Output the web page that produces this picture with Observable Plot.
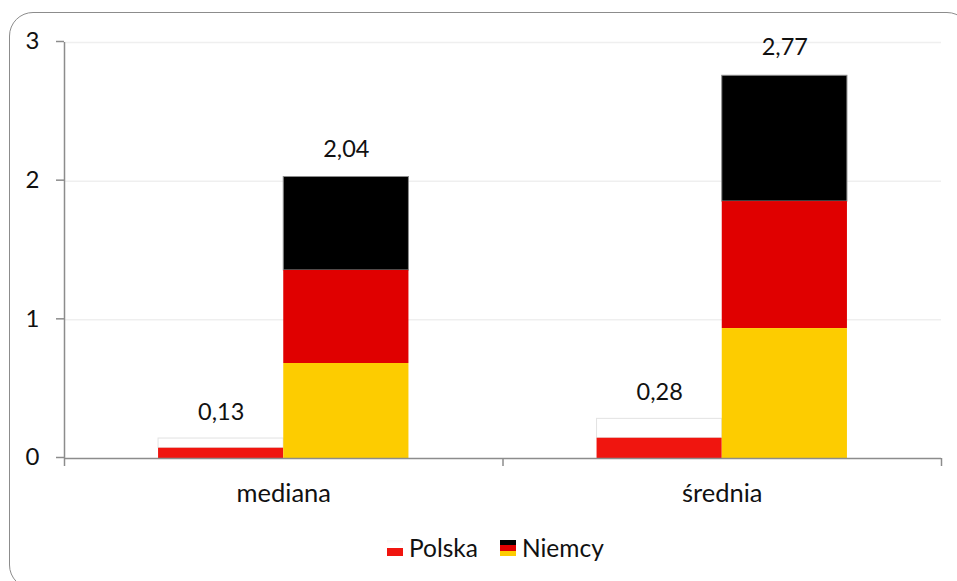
<!DOCTYPE html>
<html><head><meta charset="utf-8">
<script src="https://cdn.jsdelivr.net/npm/d3@7"></script>
<script src="https://cdn.jsdelivr.net/npm/@observablehq/plot@0.6"></script>
<style>
html,body{margin:0;padding:0;background:#fff;width:957px;height:581px;overflow:hidden;font-family:Lato,sans-serif;color:#111}
#frame{position:absolute;left:9px;top:12px;width:962px;height:577px;border:1.5px solid #8c8c8c;border-radius:24px;box-sizing:border-box}
#chart{position:absolute;left:0;top:0}
#legend{position:absolute;left:387px;top:533px;display:flex;gap:22px;font-size:24.5px;line-height:30px;white-space:nowrap}
#legend span.i{display:inline-flex;align-items:center}
#legend i{display:inline-block;width:16px;height:16px;margin-right:6px}
</style></head><body>
<div id="frame"></div><div id="chart"></div><div id="legend"></div>
<script>
const categories = ["mediana", "średnia"];
const polandLabels = ["0,13", "0,28"];
const germanyLabels = ["2,04", "2,77"];
const polandWhite = [0.07, 0.14];
const polandRed = [0.074, 0.146];
const germanyGold = [0.685, 0.937];
const germanyRed = [0.671, 0.916];
const germanyBlack = [0.674, 0.907];
const seriesNames = ["Polska", "Niemcy"];
const COLORS = {white:"#ffffff", polred:"#f0150f", gold:"#fdcc00", red:"#e00000", black:"#000000"};
const BAR = 0.2855; // bar width as a share of one category slot

const rows = [];
categories.forEach((c, i) => {
  rows.push({x1:i+.5-BAR, x2:i+.5, y1:polandRed[i], y2:polandRed[i]+polandWhite[i], fill:COLORS.white, stroke:"#e2e2e2"});
  rows.push({x1:i+.5-BAR, x2:i+.5, y1:0, y2:polandRed[i], fill:COLORS.polred, stroke:"none"});
  const g = germanyGold[i], r = germanyRed[i], k = germanyBlack[i];
  rows.push({x1:i+.5, x2:i+.5+BAR, y1:g+r, y2:g+r+k, fill:COLORS.black, stroke:"#8c8c8c"});
  rows.push({x1:i+.5, x2:i+.5+BAR, y1:g, y2:g+r, fill:COLORS.red, stroke:"none"});
  rows.push({x1:i+.5, x2:i+.5+BAR, y1:0, y2:g, fill:COLORS.gold, stroke:"none"});
});
const poland = categories.map((c, i) => ({x:i+.5-BAR/2, y:polandRed[i]+polandWhite[i], t:polandLabels[i]}));
const germany = categories.map((c, i) => ({x:i+.5+BAR/2, y:germanyGold[i]+germanyRed[i]+germanyBlack[i], t:germanyLabels[i]}));

const plot = Plot.plot({
  width:957, height:581,
  marginLeft:64, marginRight:16, marginTop:42, marginBottom:123,
  style:{fontFamily:"Lato,sans-serif", color:"#111", background:"transparent"},
  x:{domain:[0,2], axis:null},
  y:{domain:[0,3], axis:null},
  marks:[
    Plot.ruleY([1,2,3], {stroke:"#efefef", strokeWidth:1.5}),
    Plot.rect(rows, {x1:"x1", x2:"x2", y1:"y1", y2:"y2", fill:d=>d.fill, stroke:d=>d.stroke, strokeWidth:1}),
    Plot.ruleY([0], {stroke:"#8c8c8c", strokeWidth:1.5}),
    Plot.ruleX([0], {stroke:"#8c8c8c", strokeWidth:1.5}),
    Plot.axisY({ticks:[0,1,2,3], tickSize:8, tickPadding:17, stroke:"#8c8c8c", strokeWidth:1.5, fontSize:24, dy:-1, tickFormat:d3.format("d"), label:null}),
    Plot.axisX({ticks:[0,1,2], tickSize:8, tickFormat:()=>"", stroke:"#8c8c8c", strokeWidth:1.5, label:null}),
    Plot.axisX({ticks:[0.5,1.5], tickSize:0, tickPadding:25, tickFormat:d=>categories[Math.floor(d)], fontSize:25.5, label:null}),
    Plot.text(poland, {x:"x", y:"y", text:"t", dy:-26, fontSize:23.5, fill:"#111"}),
    Plot.text(germany, {x:"x", y:"y", text:"t", dy:-28, fontSize:23.5, fill:"#111"})
  ]
});
document.getElementById("chart").append(plot);

const swatches = [
  "linear-gradient(#f6f6f6 0,#fff 25%,#fff 50%,#f0150f 50% 100%)",
  "linear-gradient(#000 0 33%,#e00000 33% 66%,#fdcc00 66% 100%)"
];
document.getElementById("legend").innerHTML = seriesNames.map((n,i)=>
  `<span class="i"><i style="background:${swatches[i]}"></i>${n}</span>`).join("");
</script>
</body></html>
